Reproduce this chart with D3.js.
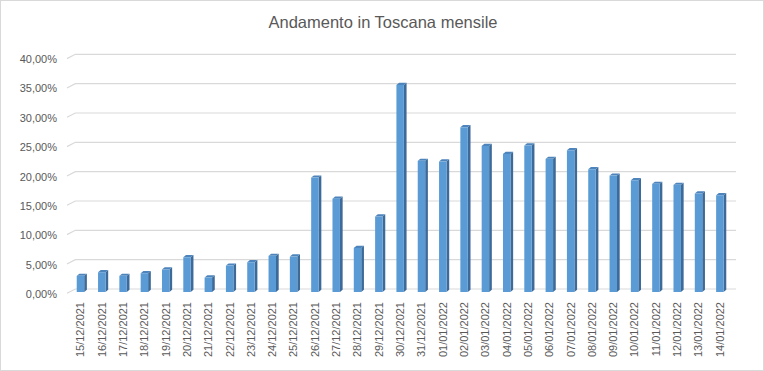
<!DOCTYPE html>
<html><head><meta charset="utf-8">
<script src="https://cdn.jsdelivr.net/npm/d3@7"></script>
<style>html,body{margin:0;padding:0;background:#fff;}svg{display:block;}</style>
</head><body>
<script>
const title = "Andamento in Toscana mensile";
const dates = ["15/12/2021","16/12/2021","17/12/2021","18/12/2021","19/12/2021","20/12/2021","21/12/2021","22/12/2021","23/12/2021","24/12/2021","25/12/2021","26/12/2021","27/12/2021","28/12/2021","29/12/2021","30/12/2021","31/12/2021","01/01/2022","02/01/2022","03/01/2022","04/01/2022","05/01/2022","06/01/2022","07/01/2022","08/01/2022","09/01/2022","10/01/2022","11/01/2022","12/01/2022","13/01/2022","14/01/2022"];
const values = [0.0275,0.0337,0.0275,0.0320,0.0383,0.0592,0.0246,0.0450,0.0507,0.0616,0.0604,0.1950,0.1590,0.0752,0.1286,0.3530,0.2235,0.2223,0.2807,0.2490,0.2354,0.2496,0.2269,0.2415,0.2092,0.1984,0.1904,0.1843,0.1826,0.1678,0.1649];
const yTicks = [0,0.05,0.10,0.15,0.20,0.25,0.30,0.35,0.40];

const W = 764, H = 371;
const font = "'Liberation Sans', Arial, sans-serif";
const textCol = "#595959";
const svg = d3.select("body").append("svg").attr("width", W).attr("height", H);

svg.append("rect").attr("x",0.5).attr("y",0.5).attr("width",W-1).attr("height",H-1)
  .attr("fill","#fff").attr("stroke","#d9d9d9");

svg.append("text").attr("x",383).attr("y",28).attr("text-anchor","middle")
  .attr("font-family",font).attr("font-size","16.5px").attr("fill",textCol).text(title);

const wallL = 75.3, wallR = 736;
const y = d3.scaleLinear().domain([0,0.4]).range([289,54.3]);
const x = d3.scaleBand().domain(dates).range([wallL, wallR]).paddingInner(0.65).paddingOuter(0.325);

// gridlines (back wall with slanted side)
const fmt = v => d3.format(".2f")(v*100).replace(".", ",") + "%";
const grid = svg.append("g");
yTicks.forEach(t => {
  const yy = y(t);
  grid.append("path")
    .attr("d", `M67,${yy+4.3}L${wallL},${yy}L${wallR},${yy}`)
    .attr("fill","none").attr("stroke","#d9d9d9").attr("stroke-width",1.2);
  grid.append("text").attr("x",57).attr("y",yy+5).attr("dy","0.35em")
    .attr("text-anchor","end").attr("font-family",font).attr("font-size","11px")
    .attr("fill",textCol).text(fmt(t));
});

// 3D bars
const fw = x.bandwidth();           // front face width
const ddx = 2.7, ddy = 2.2;         // bar depth
const shiftX = -5.5, shiftY = 3.0;  // front face offset from back wall
const bars = svg.append("g");
dates.forEach((d,i) => {
  const v = values[i];
  const fx = x(d) + shiftX;
  const fTop = y(v) + shiftY;
  const fBot = y(0) + shiftY;
  // side
  bars.append("path")
    .attr("d", `M${fx+fw},${fTop}L${fx+fw+ddx},${fTop-ddy}L${fx+fw+ddx},${fBot-ddy}L${fx+fw},${fBot}Z`)
    .attr("fill","#3d6a98");
  // top
  bars.append("path")
    .attr("d", `M${fx},${fTop}L${fx+ddx},${fTop-ddy}L${fx+fw+ddx},${fTop-ddy}L${fx+fw},${fTop}Z`)
    .attr("fill","#4d84bb");
  // front
  bars.append("rect").attr("x",fx).attr("y",fTop).attr("width",fw).attr("height",fBot-fTop)
    .attr("fill","#5b9bd5");
});

// x labels
const lab = svg.append("g");
dates.forEach(d => {
  const cx = x(d) + shiftX + fw/2;
  lab.append("text")
    .attr("transform", `translate(${cx},302) rotate(-90)`)
    .attr("dy","0.35em").attr("text-anchor","end")
    .attr("font-family",font).attr("font-size","11px").attr("fill",textCol).text(d);
});
</script>
</body></html>
